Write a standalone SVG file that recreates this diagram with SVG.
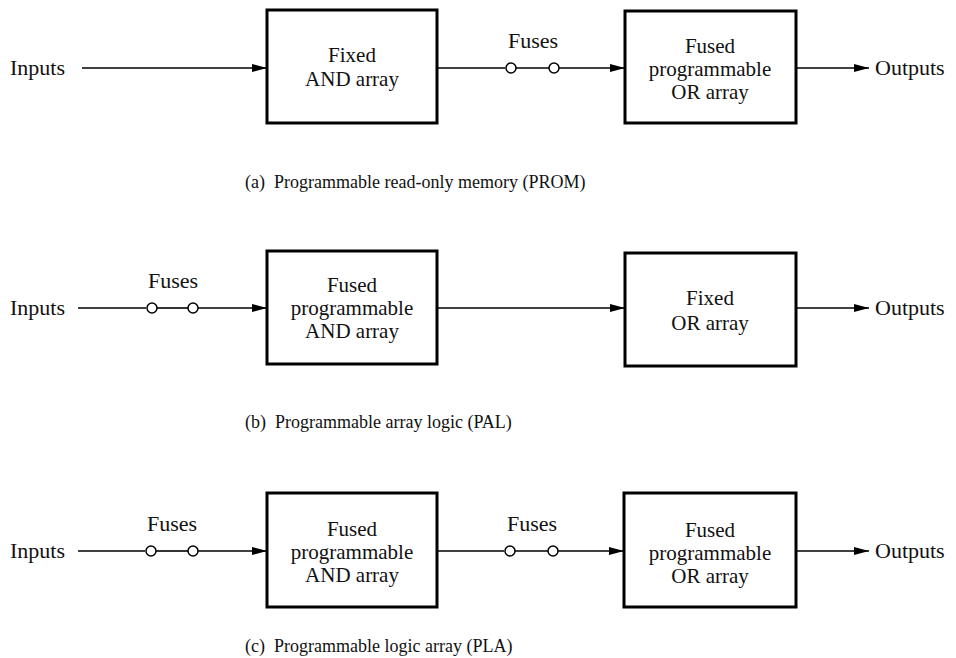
<svg xmlns="http://www.w3.org/2000/svg" width="956" height="658" viewBox="0 0 956 658" font-family="'Liberation Serif', 'DejaVu Serif', 'Times New Roman', serif">
<style>
  text { font-family: 'Liberation Serif', 'DejaVu Serif', 'Times New Roman', serif; fill: #111; }
  .lbl { font-size: 22px; }
  .box-t { font-size: 21px; text-anchor: middle; }
  .cap { font-size: 18px; }
  .box { fill: #fff; stroke: #000; stroke-width: 3; }
  .wire { fill: none; stroke: #000; stroke-width: 1.6; }
  .fuse { fill: #fff; stroke: #000; stroke-width: 1.5; }
</style>
<defs>
  <marker id="arr" markerUnits="userSpaceOnUse" markerWidth="16" markerHeight="10" refX="15" refY="5" orient="auto">
    <path d="M0,1 L15,5 L0,9 z" fill="#000"/>
  </marker>
</defs>
<rect width="956" height="658" fill="#fff"/>

<g id="connectors">
  <line class="wire" x1="82" y1="68" x2="267" y2="68" marker-end="url(#arr)"/>
  <line class="wire" x1="437" y1="68" x2="505" y2="68"/>
  <line class="wire" x1="516" y1="68" x2="549" y2="68"/>
  <line class="wire" x1="559" y1="68" x2="625" y2="68" marker-end="url(#arr)"/>
  <line class="wire" x1="797" y1="68" x2="869" y2="68" marker-end="url(#arr)"/>

  <line class="wire" x1="78" y1="308" x2="146" y2="308"/>
  <line class="wire" x1="157" y1="308" x2="188" y2="308"/>
  <line class="wire" x1="198" y1="308" x2="267" y2="308" marker-end="url(#arr)"/>
  <line class="wire" x1="438" y1="308" x2="625" y2="308" marker-end="url(#arr)"/>
  <line class="wire" x1="797" y1="308" x2="869" y2="308" marker-end="url(#arr)"/>

  <line class="wire" x1="78" y1="551" x2="145" y2="551"/>
  <line class="wire" x1="156" y1="551" x2="188" y2="551"/>
  <line class="wire" x1="198" y1="551" x2="267" y2="551" marker-end="url(#arr)"/>
  <line class="wire" x1="437" y1="551" x2="504" y2="551"/>
  <line class="wire" x1="515" y1="551" x2="548" y2="551"/>
  <line class="wire" x1="558" y1="551" x2="624" y2="551" marker-end="url(#arr)"/>
  <line class="wire" x1="797" y1="551" x2="869" y2="551" marker-end="url(#arr)"/>
</g>

<g id="fuses-a">
  <circle class="fuse" cx="511" cy="68" r="5"/>
  <circle class="fuse" cx="554" cy="68" r="5"/>
  <text class="lbl" x="533" y="48" text-anchor="middle">Fuses</text>
</g>
<g id="fuses-b">
  <circle class="fuse" cx="152" cy="308" r="5"/>
  <circle class="fuse" cx="193" cy="308" r="5"/>
  <text class="lbl" x="173" y="288" text-anchor="middle">Fuses</text>
</g>
<g id="fuses-c1">
  <circle class="fuse" cx="151" cy="551" r="5"/>
  <circle class="fuse" cx="193" cy="551" r="5"/>
  <text class="lbl" x="172" y="531" text-anchor="middle">Fuses</text>
</g>
<g id="fuses-c2">
  <circle class="fuse" cx="510" cy="551" r="5"/>
  <circle class="fuse" cx="553" cy="551" r="5"/>
  <text class="lbl" x="532" y="531" text-anchor="middle">Fuses</text>
</g>

<g id="inputs-a"><text class="lbl" x="10" y="75">Inputs</text></g>
<g id="outputs-a"><text class="lbl" x="875" y="75">Outputs</text></g>
<g id="inputs-b"><text class="lbl" x="10" y="315">Inputs</text></g>
<g id="outputs-b"><text class="lbl" x="875" y="315">Outputs</text></g>
<g id="inputs-c"><text class="lbl" x="10" y="558">Inputs</text></g>
<g id="outputs-c"><text class="lbl" x="875" y="558">Outputs</text></g>

<g id="a-and">
  <rect class="box" x="267" y="10" width="170" height="113"/>
  <text class="box-t" x="352" y="62">Fixed</text>
  <text class="box-t" x="352" y="86">AND array</text>
</g>
<g id="a-or">
  <rect class="box" x="625" y="11" width="171" height="112"/>
  <text class="box-t" x="710" y="53">Fused</text>
  <text class="box-t" x="710" y="76">programmable</text>
  <text class="box-t" x="710" y="99">OR array</text>
</g>
<text id="cap-a" class="cap" x="245" y="188" xml:space="preserve">(a)  Programmable read-only memory (PROM)</text>

<g id="b-and">
  <rect class="box" x="267" y="251" width="170" height="113"/>
  <text class="box-t" x="352" y="292">Fused</text>
  <text class="box-t" x="352" y="315">programmable</text>
  <text class="box-t" x="352" y="338">AND array</text>
</g>
<g id="b-or">
  <rect class="box" x="625" y="253" width="171" height="113"/>
  <text class="box-t" x="710" y="305">Fixed</text>
  <text class="box-t" x="710" y="330">OR array</text>
</g>
<text id="cap-b" class="cap" x="245" y="428" xml:space="preserve">(b)  Programmable array logic (PAL)</text>

<g id="c-and">
  <rect class="box" x="267" y="493" width="170" height="114"/>
  <text class="box-t" x="352" y="536">Fused</text>
  <text class="box-t" x="352" y="559">programmable</text>
  <text class="box-t" x="352" y="582">AND array</text>
</g>
<g id="c-or">
  <rect class="box" x="624" y="493" width="172" height="114"/>
  <text class="box-t" x="710" y="537">Fused</text>
  <text class="box-t" x="710" y="560">programmable</text>
  <text class="box-t" x="710" y="583">OR array</text>
</g>
<text id="cap-c" class="cap" x="245" y="652" xml:space="preserve">(c)  Programmable logic array (PLA)</text>
</svg>
